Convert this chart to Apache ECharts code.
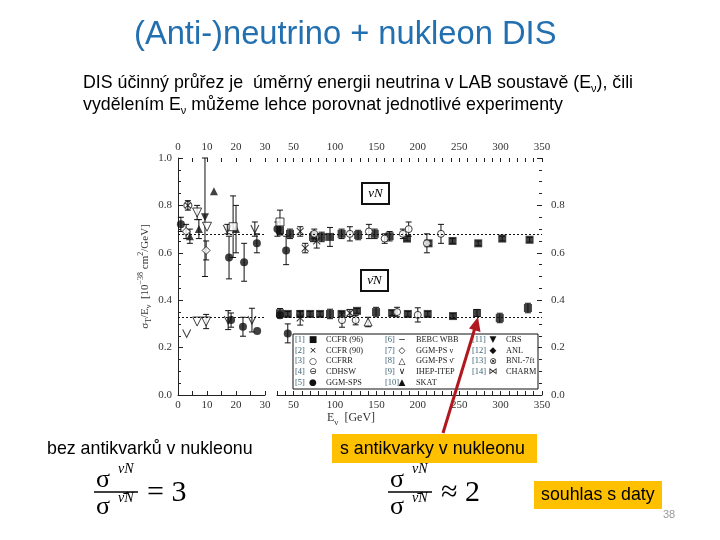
<!DOCTYPE html>
<html>
<head>
<meta charset="utf-8">
<script src="https://cdn.jsdelivr.net/npm/echarts@6/dist/echarts.min.js"></script>
<style>
  html, body { margin: 0; padding: 0; background: #fff; }
  #main { width: 720px; height: 540px; }
</style>
</head>
<body>
<div id="main"></div>
<script>
// body bodu: [E_nu (GeV), sigma_T/E_nu (1e-38 cm2/GeV), chyba]
// horni pas = neutrina, dolni pas = antineutrina
const ccfr96Nu = [[33.6, 0.695, 0.02], [45.7, 0.68, 0.02], [73.5, 0.667, 0.02], [84, 0.667, 0.02], [94, 0.667, 0.04],
  [108, 0.68, 0.02], [128, 0.675, 0.02], [148, 0.68, 0.02], [166, 0.67, 0.02], [187, 0.66, 0.01],
  [213, 0.64, 0.01], [242, 0.65, 0.01], [273, 0.64, 0.01], [302, 0.66, 0.01], [335, 0.655, 0.01]]
const ccfr96Nubar = [[33.6, 0.345, 0.02], [43, 0.342, 0.01], [58, 0.342, 0.01], [70, 0.342, 0.01], [82, 0.342, 0.01],
  [94, 0.342, 0.02], [108, 0.342, 0.01], [126.6, 0.355, 0.01], [149.6, 0.35, 0.02], [169, 0.346, 0.01],
  [188, 0.342, 0.01], [212, 0.342, 0.01], [242.5, 0.333, 0.01], [271.5, 0.346, 0.015], [299, 0.325, 0.02], [333, 0.367, 0.02]]
const ccfr90Nu = [[58, 0.69, 0.02], [64, 0.62, 0.02], [78, 0.65, 0.03]]
const ccfr90Nubar = [[58, 0.325, 0.03], [118, 0.346, 0.015]]
const ccfrrNu = [[75, 0.68, 0.02], [118, 0.68, 0.03], [141, 0.69, 0.03], [160, 0.66, 0.02], [182, 0.68, 0.02],
  [189, 0.70, 0.03], [211, 0.64, 0.04], [228, 0.68, 0.04]]
const ccfrrNubar = [[108.5, 0.316, 0.03], [125, 0.316, 0.02], [175, 0.35, 0.02], [200, 0.338, 0.03]]
const ggmSpsNu = [[1, 0.72, 0.03], [17.6, 0.58, 0.09], [22.8, 0.56, 0.08], [27.2, 0.64, 0.04], [30.5, 0.70, 0.03], [41, 0.61, 0.06]]
const ggmSpsNubar = [[18.3, 0.316, 0.03], [22.4, 0.288, 0.04], [27.3, 0.27, 0], [33.6, 0.337, 0.01], [43, 0.26, 0.04]]
const ggmPsNu = [[2.8, 0.69, 0.03], [9.7, 0.61, 0.04]]
const ggmPsNubar = [[140, 0.308, 0.02]]
const skatNu = [[4.1, 0.67, 0.03], [7.2, 0.70, 0.04], [12.4, 0.86, 0], [20, 0.70, 0.1]]
const crsNu = [[9.3, 0.75, 0.25]]
const ihepItep = [[17, 0.70, 0.02], [26.5, 0.70, 0.03], [3, 0.26, 0], [17.3, 0.316, 0.04], [25.5, 0.316, 0.05]]
const ihepJinr = [[6.6, 0.77, 0.03], [10, 0.71, 0], [6.6, 0.31, 0], [9.7, 0.31, 0.03]]
const openSquare = [[19, 0.71, 0.13], [33.6, 0.73, 0.05]]
const bnlNu = [[3.4, 0.80, 0.02]]

// izoskalarni hodnoty (teckovane cary)
const ratioNu = 0.677
const ratioNubar = 0.334

const legendIds = ['[1]', '[2]', '[3]', '[4]', '[5]', '[6]', '[7]', '[8]', '[9]', '[10]', '[11]', '[12]', '[13]', '[14]']
const legendGlyphs = ['■', '×', '○', '⊖', '●', '−', '◇', '△', '∨', '▲', '▼', '◆', '⊗', '⋈']
const legendNames = ['CCFR (96)', 'CCFR (90)', 'CCFRR', 'CDHSW', 'GGM-SPS', 'BEBC WBB', 'GGM-PS ν', 'GGM-PS ν̄',
  'IHEP-ITEP', 'SKAT', 'CRS', 'ANL', 'BNL-7ft', 'CHARM']

const xSplit = 30
const serif = 'Liberation Serif'
const sans = 'Liberation Sans'

const open = { color: '#fff', borderColor: '#111', borderWidth: 1 }
const stroke = { color: 'transparent', borderColor: '#111', borderWidth: 1.1 }
const fill = { color: '#111' }

// chybove useky
function errBar (params, api) {
  const x = api.value(0)
  const y = api.value(1)
  const e = api.value(2)
  if (!e) return
  const a = api.coord([x, y + e])
  const b = api.coord([x, y - e])
  const s = { stroke: '#111', lineWidth: 1 }
  return {
    type: 'group',
    children: [
      { type: 'line', shape: { x1: a[0], y1: a[1], x2: b[0], y2: b[1] }, style: s },
      { type: 'line', shape: { x1: a[0] - 3, y1: a[1], x2: a[0] + 3, y2: a[1] }, style: s },
      { type: 'line', shape: { x1: b[0] - 3, y1: b[1], x2: b[0] + 3, y2: b[1] }, style: s }
    ]
  }
}

function expSeries (name, pts, st) {
  const out = []
  const parts = [[pts.filter(p => p[0] <= xSplit), 0, 0], [pts.filter(p => p[0] > xSplit), 2, 1]]
  parts.forEach(([d, xi, yi]) => {
    if (!d.length) return
    out.push({ type: 'custom', name, xAxisIndex: xi, yAxisIndex: yi, data: d, renderItem: errBar, z: 2, silent: true, encode: { x: 0, y: 1 } })
    out.push(Object.assign({ type: 'scatter', name, xAxisIndex: xi, yAxisIndex: yi, data: d.map(p => [p[0], p[1]]), z: 3, silent: true }, st))
  })
  return out
}

const series = [].concat(
  expSeries('CCFR (96)', ccfr96Nu.concat(ccfr96Nubar), { symbol: 'rect', symbolSize: 8, itemStyle: fill }),
  expSeries('CCFR (90)', ccfr90Nu.concat(ccfr90Nubar), { symbol: 'path://M0,0L10,10M10,0L0,10', symbolSize: 7, itemStyle: stroke }),
  expSeries('CCFRR', ccfrrNu.concat(ccfrrNubar), { symbol: 'circle', symbolSize: 7, itemStyle: open }),
  expSeries('GGM-SPS', ggmSpsNu.concat(ggmSpsNubar), { symbol: 'circle', symbolSize: 8, itemStyle: fill }),
  expSeries('GGM-PS', ggmPsNu, { symbol: 'diamond', symbolSize: 8, itemStyle: open }),
  expSeries('GGM-PS anti', ggmPsNubar, { symbol: 'triangle', symbolSize: 8, itemStyle: open }),
  expSeries('SKAT', skatNu, { symbol: 'triangle', symbolSize: 8, itemStyle: fill }),
  expSeries('CRS', crsNu, { symbol: 'triangle', symbolRotate: 180, symbolSize: 8, itemStyle: fill }),
  expSeries('IHEP-ITEP', ihepItep, { symbol: 'path://M0,0L5,10L10,0', symbolSize: 8, itemStyle: stroke }),
  expSeries('IHEP-JINR', ihepJinr, { symbol: 'triangle', symbolRotate: 180, symbolSize: 9, itemStyle: open }),
  expSeries('open', openSquare, { symbol: 'rect', symbolSize: 8, itemStyle: open }),
  expSeries('BNL-7ft', bnlNu, { symbol: 'path://M0,5A5,5,0,1,1,10,5A5,5,0,1,1,0,5ZM1.5,1.5L8.5,8.5M8.5,1.5L1.5,8.5', symbolSize: 8, itemStyle: stroke })
)

// teckovane cary v obou panelech
const refLine = {
  silent: true,
  symbol: 'none',
  label: { show: false },
  lineStyle: { type: [2, 2], color: '#111', width: 1 },
  data: [{ yAxis: ratioNu }, { yAxis: ratioNubar }]
}
series.push({ type: 'scatter', xAxisIndex: 0, yAxisIndex: 0, data: [], markLine: refLine })
series.push({ type: 'scatter', xAxisIndex: 2, yAxisIndex: 1, data: [], markLine: refLine })

const axisFont = { fontFamily: serif, fontSize: 11, color: '#333' }
const tickStyle = { color: '#222', width: 1 }

function xAx (grid, pos, min, max, step, every) {
  return {
    type: 'value', gridIndex: grid, position: pos, min, max, interval: step,
    axisLine: { show: pos === 'bottom', lineStyle: tickStyle },
    axisTick: { inside: true, length: 4, lineStyle: tickStyle },
    axisLabel: Object.assign({ margin: 5, formatter: v => (v % every === 0 ? String(v) : '') }, axisFont),
    splitLine: { show: false }
  }
}

function yAx (grid, pos, withLine, hideTop) {
  return {
    type: 'value', gridIndex: grid, position: pos, min: 0, max: 1, interval: 0.2,
    axisLine: { show: withLine, lineStyle: tickStyle },
    axisTick: { inside: true, length: 5, lineStyle: tickStyle },
    minorTick: { show: true, splitNumber: 4, length: 3, lineStyle: tickStyle },
    axisLabel: Object.assign({ margin: hideTop ? 9 : 6, formatter: v => (hideTop && v === 1 ? '' : v.toFixed(1)) }, axisFont),
    splitLine: { show: false }
  }
}

const yLeft = yAx(0, 'left', true, false)
yLeft.name = '{t|σ}{d|T}{t|/E}{d|ν}{t|  [10}{u|−38}{t| cm}{u|2}{t|/GeV]}'
yLeft.nameLocation = 'middle'
yLeft.nameRotate = 90
yLeft.nameGap = 25
yLeft.nameTextStyle = {
  fontFamily: serif, fontSize: 11, color: '#333',
  rich: {
    t: { fontFamily: serif, fontSize: 11, color: '#333', lineHeight: 16 },
    d: { fontFamily: serif, fontSize: 8, color: '#333', lineHeight: 16, verticalAlign: 'bottom' },
    u: { fontFamily: serif, fontSize: 8, color: '#333', lineHeight: 16, verticalAlign: 'top' }
  }
}

const bodySize = 17.8

function txt (x, y, text, o) {
  return {
    type: 'text', z: 100, silent: true,
    style: Object.assign({ x, y, text, fill: '#000', fontFamily: sans, fontSize: bodySize, align: 'left', verticalAlign: 'middle' }, o || {})
  }
}

const graphic = []
const subRich = { s: { fontFamily: sans, fontSize: 11, verticalAlign: 'bottom', lineHeight: 22 } }

// nadpis a text
graphic.push(txt(134, 35, '(Anti-)neutrino + nukleon DIS', { fontSize: 32.7, fill: '#2370B0' }))
graphic.push(txt(83, 83, 'DIS účinný průřez je  úměrný energii neutrina v LAB soustavě (E{s|ν}), čili', { rich: subRich }))
graphic.push(txt(83, 105, 'vydělením E{s|ν} můžeme lehce porovnat jednotlivé experimenty', { rich: subRich }))

// osa x - popisek
graphic.push(txt(327, 418, 'E{s|ν}  [GeV]', {
  fontFamily: serif, fontSize: 12, fill: '#333',
  rich: { s: { fontFamily: serif, fontSize: 9, fill: '#333', verticalAlign: 'bottom', lineHeight: 18 } }
}))

// ramecky nu N / anti-nu N
graphic.push({ type: 'rect', z: 90, silent: true, shape: { x: 362, y: 183, width: 27, height: 21 }, style: { fill: '#fff', stroke: '#111', lineWidth: 2 } })
graphic.push(txt(375.5, 194, 'νN', { fontFamily: serif, fontStyle: 'italic', fontSize: 13, align: 'center' }))
graphic.push({ type: 'rect', z: 90, silent: true, shape: { x: 361, y: 270, width: 27, height: 21 }, style: { fill: '#fff', stroke: '#111', lineWidth: 2 } })
graphic.push(txt(374.5, 281, 'ν̄N', { fontFamily: serif, fontStyle: 'italic', fontSize: 13, align: 'center' }))

// legenda
graphic.push({ type: 'rect', z: 90, silent: true, shape: { x: 293, y: 334, width: 245, height: 55 }, style: { fill: '#fff', stroke: '#111', lineWidth: 1 } })
const colX = [[295, 313, 326], [385, 402, 416], [472, 493, 506]]
legendIds.forEach((id, i) => {
  const c = i < 5 ? 0 : (i < 10 ? 1 : 2)
  const r = i < 10 ? i % 5 : i - 10
  const y = 340 + r * 10.6
  graphic.push(txt(colX[c][0], y, id, { fontFamily: serif, fontSize: 8.5, fill: '#3a6070' }))
  graphic.push(txt(colX[c][1], y, legendGlyphs[i], { fontFamily: 'DejaVu Sans', fontSize: 9, fill: '#111', align: 'center' }))
  graphic.push(txt(colX[c][2], y, legendNames[i], { fontFamily: serif, fontSize: 8.3, fill: '#222' }))
})

// sipka
graphic.push({ type: 'line', z: 110, silent: true, shape: { x1: 443, y1: 433, x2: 474.5, y2: 329.5 }, style: { stroke: '#B0171F', lineWidth: 3 } })
graphic.push({ type: 'polygon', z: 110, silent: true, shape: { points: [[478, 317], [480.5, 332], [469, 328.5]] }, style: { fill: '#B0171F' } })

// spodni texty
graphic.push(txt(47, 449, 'bez antikvarků v nukleonu'))
graphic.push({ type: 'rect', z: 90, silent: true, shape: { x: 332, y: 434, width: 205, height: 29 }, style: { fill: '#FFC000' } })
graphic.push(txt(340, 449, 's antikvarky v nukleonu'))
graphic.push({ type: 'rect', z: 90, silent: true, shape: { x: 534, y: 481, width: 128, height: 28 }, style: { fill: '#FFC000' } })
graphic.push(txt(541, 495, 'souhlas s daty'))
graphic.push(txt(663, 515, '38', { fontSize: 11, fill: '#999' }))

// zlomky
function fraction (x0, rhs) {
  const f = { fontFamily: serif, fontSize: 26 }
  const sup = { fontFamily: serif, fontStyle: 'italic', fontSize: 14 }
  graphic.push(txt(x0 + 2, 480, 'σ', f))
  graphic.push(txt(x0 + 24, 469, 'νN', sup))
  graphic.push({ type: 'line', z: 100, silent: true, shape: { x1: x0, y1: 492, x2: x0 + 44, y2: 492 }, style: { stroke: '#000', lineWidth: 1.5 } })
  graphic.push(txt(x0 + 2, 507, 'σ', f))
  graphic.push(txt(x0 + 24, 498, 'ν̄N', sup))
  graphic.push(txt(x0 + 53, 493, rhs, { fontFamily: serif, fontSize: 30 }))
}
fraction(94, '= 3')
fraction(388, '≈ 2')

const option = {
  backgroundColor: '#fff',
  animation: false,
  grid: [
    { left: 178, top: 158, width: 87, height: 237 },
    { left: 277, top: 158, width: 265, height: 237 }
  ],
  xAxis: [
    xAx(0, 'bottom', 0, 30, 5, 10),
    xAx(0, 'top', 0, 30, 5, 10),
    xAx(1, 'bottom', 30, 350, 10, 50),
    xAx(1, 'top', 30, 350, 10, 50)
  ],
  yAxis: [yLeft, yAx(1, 'right', false, true)],
  series,
  graphic
}

const myChart = echarts.init(document.getElementById('main'))
myChart.setOption(option)
</script>
</body>
</html>
